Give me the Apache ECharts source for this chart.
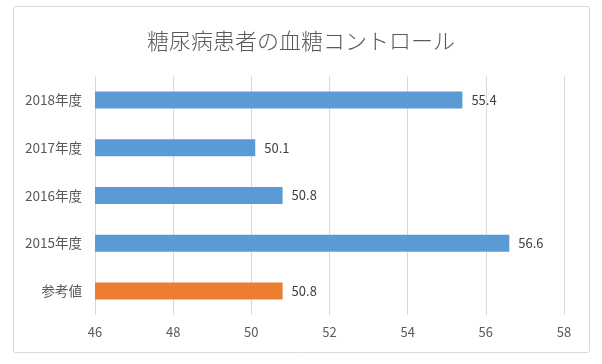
<!DOCTYPE html>
<html><head><meta charset="utf-8">
<script src="https://cdn.jsdelivr.net/npm/echarts@6/dist/echarts.min.js"></script>
<style>html,body{margin:0;padding:0;background:#fff}#c{width:602px;height:364px}</style>
</head><body><div id="c"></div>
<script>
const titleText = '糖尿病患者の血糖コントロール';
const categories = ['2018年度', '2017年度', '2016年度', '2015年度', '参考値'];
const values = [55.4, 50.1, 50.8, 56.6, 50.8];
const barColors = ['#5B9BD5', '#5B9BD5', '#5B9BD5', '#5B9BD5', '#ED7D31'];
const xTicks = { min: 46, max: 58, interval: 2 };

const FONT = '"Noto Sans CJK JP", "Noto Sans", sans-serif';
const chart = echarts.init(document.getElementById('c'), null, { renderer: 'canvas' });
chart.setOption({
  animation: false,
  backgroundColor: '#fff',
  graphic: [{
    type: 'rect', left: 13, top: 6, z: -1,
    shape: { width: 576, height: 346, r: 2 },
    style: { fill: '#fff', stroke: '#D9D9D9', lineWidth: 1 }
  }],
  title: {
    text: titleText, left: 'center', top: 25,
    textStyle: { fontFamily: FONT, fontSize: 22, fontWeight: 300, color: '#595959' }
  },
  grid: { left: 95, right: 38, top: 76, bottom: 49, containLabel: false },
  xAxis: {
    type: 'value', min: xTicks.min, max: xTicks.max, interval: xTicks.interval,
    axisLine: { show: false }, axisTick: { show: false },
    splitLine: { show: true, lineStyle: { color: '#D9D9D9', width: 1 } },
    axisLabel: { color: '#595959', fontFamily: FONT, fontSize: 13, margin: 11 }
  },
  yAxis: {
    type: 'category', data: categories, inverse: true,
    axisLine: { show: false }, axisTick: { show: false },
    axisLabel: { color: '#595959', fontFamily: FONT, fontSize: 13.5, margin: 13 }
  },
  series: [{
    type: 'bar', barWidth: 17,
    data: values.map((v, i) => ({ value: v, itemStyle: { color: barColors[i] } })),
    label: { show: true, position: 'right', distance: 9, color: '#404040', fontFamily: FONT, fontSize: 13 }
  }]
});
</script></body></html>
